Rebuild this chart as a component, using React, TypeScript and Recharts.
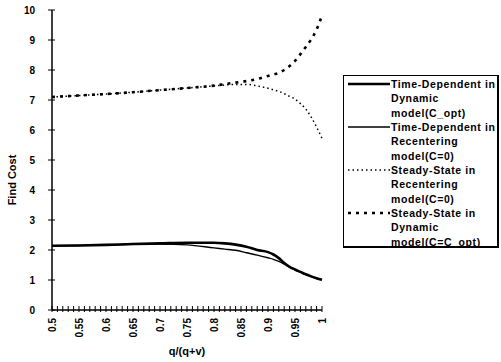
import React from 'react';
import { LineChart, Line, XAxis, YAxis, Legend } from 'recharts';

// x positions (q/(q+v))
const qValues = [0.5, 0.55, 0.6, 0.65, 0.7, 0.75, 0.8, 0.82, 0.84, 0.86, 0.88, 0.9, 0.91, 0.92, 0.93, 0.94, 0.95, 0.96, 0.97, 0.98, 0.99, 1.0];

// Time-Dependent in Dynamic model(C_opt)
const tdDynamic = [2.14, 2.15, 2.17, 2.2, 2.22, 2.24, 2.24, 2.22, 2.18, 2.11, 2.0, 1.93, 1.85, 1.73, 1.57, 1.44, 1.35, 1.27, 1.19, 1.12, 1.06, 1.01];
// Time-Dependent in Recentering model(C=0)
const tdRecenter = [2.14, 2.15, 2.17, 2.19, 2.2, 2.17, 2.07, 2.03, 1.99, 1.91, 1.83, 1.74, 1.69, 1.62, 1.53, 1.43, 1.34, 1.26, 1.18, 1.11, 1.05, 1.01];
// Steady-State in Recentering model(C=0)
const ssRecenter = [7.1, 7.15, 7.2, 7.26, 7.33, 7.4, 7.47, 7.5, 7.52, 7.52, 7.47, 7.39, 7.34, 7.29, 7.21, 7.12, 7.03, 6.88, 6.7, 6.43, 6.1, 5.72];
// Steady-State in Dynamic model(C=C_opt)
const ssDynamic = [7.1, 7.15, 7.2, 7.26, 7.33, 7.4, 7.48, 7.53, 7.58, 7.63, 7.7, 7.8, 7.85, 7.9, 8.0, 8.13, 8.3, 8.53, 8.77, 9.02, 9.35, 9.82];

const legendLines = [
  ['Time-Dependent in', 'Dynamic', 'model(C_opt)'],
  ['Time-Dependent in', 'Recentering', 'model(C=0)'],
  ['Steady-State in', 'Recentering', 'model(C=0)'],
  ['Steady-State in', 'Dynamic', 'model(C=C_opt)'],
];
const seriesKeys = ['tdDynamic', 'tdRecenter', 'ssRecenter', 'ssDynamic'];

const xMajorLabels = ['0.5', '0.55', '0.6', '0.65', '0.7', '0.75', '0.8', '0.85', '0.9', '0.95', '1'];
const xMinorCount = 51; // minor ticks every 0.01 between 0.5 and 1
const yTicks = [0, 1, 2, 3, 4, 5, 6, 7, 8, 9, 10];

const data = qValues.map((q, i) => ({
  q,
  tdDynamic: tdDynamic[i],
  tdRecenter: tdRecenter[i],
  ssRecenter: ssRecenter[i],
  ssDynamic: ssDynamic[i],
}));
const xTicks = Array.from({ length: xMinorCount }, (_, i) => Math.round((0.5 + i * 0.01) * 100) / 100);

const FONT = "'Liberation Sans', Arial, sans-serif";

const styles = [
  { stroke: '#000', strokeWidth: 2.6, dash: undefined as string | undefined },
  { stroke: '#000', strokeWidth: 1.4, dash: undefined as string | undefined },
  { stroke: '#000', strokeWidth: 1.5, dash: '1.5 3' },
  { stroke: '#000', strokeWidth: 2.6, dash: '3 5' },
];

const XTick = (props: any) => {
  const { x, y, payload } = props;
  const v = payload.value;
  const label = xMajorLabels.find((l) => Math.abs(parseFloat(l) - v) < 1e-6);
  const ty = y + 8;
  return (
    <g>
      <line x1={x} x2={x} y1={y - 4} y2={y + 2} stroke="#000" strokeWidth={1} />
      {label && (
        <text
          x={x}
          y={ty}
          transform={`rotate(-90 ${x} ${ty})`}
          textAnchor="end"
          dominantBaseline="central"
          fontFamily={FONT}
          fontWeight="bold"
          fontSize={10}
          fill="#000"
        >
          {label}
        </text>
      )}
    </g>
  );
};

const YTick = (props: any) => {
  const { x, y, payload } = props;
  return (
    <g>
      <line x1={x - 4} x2={x + 3} y1={y} y2={y} stroke="#000" strokeWidth={1} />
      <text
        x={x - 17}
        y={y}
        textAnchor="end"
        dominantBaseline="central"
        fontFamily={FONT}
        fontWeight="bold"
        fontSize={10}
        fill="#000"
      >
        {payload.value}
      </text>
    </g>
  );
};

const LegendBox = () => (
  <div
    style={{
      border: '1px solid #000',
      borderBottom: '2px solid #000',
      borderRight: '2px solid #000',
      background: '#fff',
      paddingTop: 1,
      boxSizing: 'border-box',
      width: 156,
      height: 173,
      fontFamily: FONT,
      fontWeight: 'bold',
      fontSize: 10.5,
      letterSpacing: 0.6,
      color: '#000',
    }}
  >
    {legendLines.map((lines, i) => (
      <div key={i} style={{ display: 'flex', height: 43 }}>
        <svg width={47} height={14} style={{ flex: 'none' }}>
          <line
            x1={4}
            x2={46}
            y1={7}
            y2={7}
            stroke={styles[i].stroke}
            strokeWidth={styles[i].strokeWidth}
            strokeDasharray={styles[i].dash}
          />
        </svg>
        <div style={{ lineHeight: '14.3px', whiteSpace: 'nowrap' }}>
          {lines.map((l, j) => (
            <div key={j}>{l}</div>
          ))}
        </div>
      </div>
    ))}
  </div>
);

export default function App() {
  return (
    <div style={{ position: 'absolute', left: 0, top: 0, width: 501, height: 362, background: '#fff' }}>
      <LineChart width={501} height={362} data={data} margin={{ top: 10, right: 179, left: 0, bottom: 0 }}>
        <XAxis
          type="number"
          dataKey="q"
          domain={[0.5, 1]}
          ticks={xTicks}
          interval={0}
          tickLine={false}
          tickSize={0}
          tickMargin={0}
          height={52}
          axisLine={{ stroke: '#000', strokeWidth: 1.5 }}
          tick={<XTick />}
          label={{
            content: (p: any) => {
              const vb = p.viewBox;
              return (
                <text
                  x={vb.x + vb.width / 2}
                  y={vb.y + 41}
                  textAnchor="middle"
                  dominantBaseline="central"
                  fontFamily={FONT}
                  fontWeight="bold"
                  fontSize={11}
                  fill="#000"
                >
                  q/(q+v)
                </text>
              );
            },
          }}
        />
        <YAxis
          type="number"
          domain={[0, 10]}
          ticks={yTicks}
          interval={0}
          tickLine={false}
          tickSize={0}
          tickMargin={0}
          width={52}
          axisLine={{ stroke: '#000', strokeWidth: 1.5 }}
          tick={<YTick />}
          label={{
            content: (p: any) => {
              const vb = p.viewBox;
              const cx = 12;
              const cy = vb.y + vb.height / 2 + 20;
              return (
                <text
                  x={cx}
                  y={cy}
                  transform={`rotate(-90 ${cx} ${cy})`}
                  textAnchor="middle"
                  dominantBaseline="central"
                  fontFamily={FONT}
                  fontWeight="bold"
                  fontSize={11}
                  fill="#000"
                >
                  Find Cost
                </text>
              );
            },
          }}
        />
        <Legend
          layout="vertical"
          align="center"
          verticalAlign="middle"
          content={<LegendBox />}
          wrapperStyle={{ left: 343, top: 75, width: 156, height: 173 }}
        />
        {seriesKeys.map((k, i) => (
          <Line
            key={k}
            type="monotone"
            dataKey={k}
            name={legendLines[i].join(' ')}
            stroke={styles[i].stroke}
            strokeWidth={styles[i].strokeWidth}
            strokeDasharray={styles[i].dash}
            dot={false}
            activeDot={false}
            isAnimationActive={false}
          />
        ))}
      </LineChart>
    </div>
  );
}
